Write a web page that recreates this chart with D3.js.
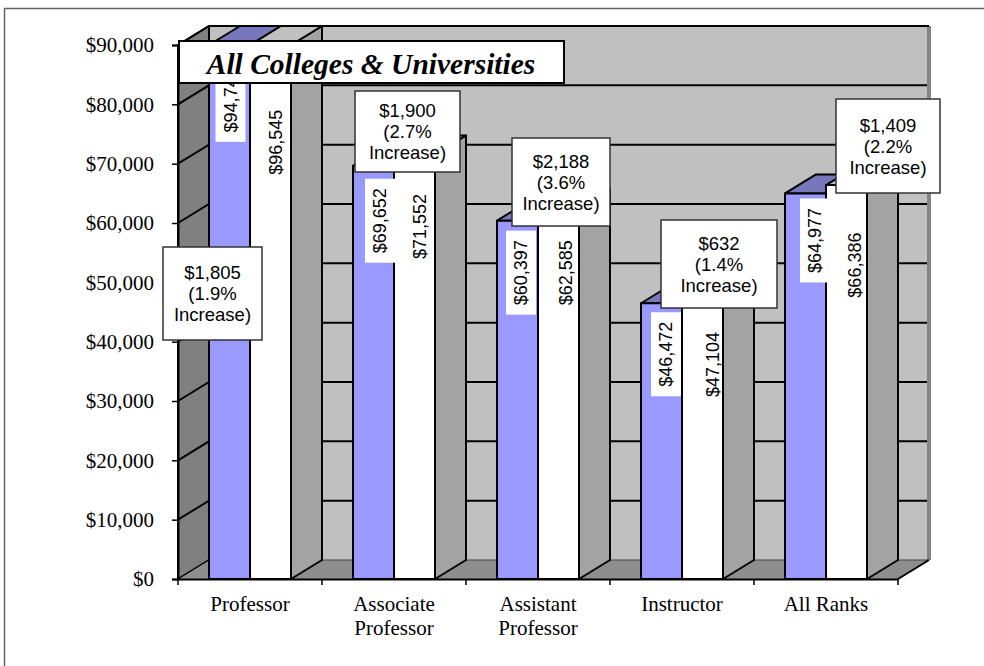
<!DOCTYPE html>
<html>
<head>
<meta charset="utf-8">
<script src="https://cdn.jsdelivr.net/npm/d3@7"></script>
<style>
  html, body { margin: 0; padding: 0; background: #fff; }
  svg { display: block; }
</style>
</head>
<body>
<div id="container"></div>
<script>
// Chart values.
const categories = ["Professor", "Associate Professor", "Assistant Professor", "Instructor", "All Ranks"];
const categoryLines = [["Professor"], ["Associate", "Professor"], ["Assistant", "Professor"], ["Instructor"], ["All Ranks"]];
const series = ["before", "after"];
const salaryBefore = [94740, 69652, 60397, 46472, 64977];
const salaryAfter = [96545, 71552, 62585, 47104, 66386];
const noteAmounts = ["$1,805", "$1,900", "$2,188", "$632", "$1,409"];
const notePercents = ["(1.9%", "(2.7%", "(3.6%", "(1.4%", "(2.2%"];
const yTicks = [0, 10000, 20000, 30000, 40000, 50000, 60000, 70000, 80000, 90000];
const titleText = "All Colleges & Universities";

// Hand placed label offsets, these were dragged around in the original chart.
const beforeLabelDx = [1, 6.5, 3.5, 4.5, 9.5];
const beforeLabelDy = [83, 55, 52, 51, 47];
const afterLabelDx = [5, 5.5, 7.5, 10.5, 8.5];
const afterLabelDy = [136, 72, 65, 65, 80];
const noteDx = [-37.5, 13.5, 23, 37, 62];
const noteTop = [247, 91, 138, 220, 99];
const noteWidth = [99, 105, 98, 116, 104];
const noteHeight = [93, 81, 88, 88, 94];

const width = 984;
const height = 666;
const marginTop = 45;
const marginLeft = 178;
const marginRight = 86;
const marginBottom = 87;
const depthX = 31;
const depthY = -19;

const serif = "'Liberation Serif', 'Times New Roman', serif";
const sans = "'Liberation Sans', Arial, sans-serif";

const x = d3.scaleBand().domain(categories).range([marginLeft, width - marginRight]);
const inner = d3.scaleBand().domain(series).range([0, x.bandwidth()]).paddingOuter(0.756);
const y = d3.scaleLinear().domain([0, 90000]).range([height - marginBottom, marginTop]).clamp(true);

const svg = d3.create("svg").attr("width", width).attr("height", height);
const floorY = y(0);
const left = x.range()[0];
const right = x.range()[1];

function poly(g, points, fill) {
  return g.append("polygon")
    .attr("points", points.map((d) => d.join(",")).join(" "))
    .attr("fill", fill)
    .attr("stroke", "#000")
    .attr("stroke-width", 2)
    .attr("stroke-linejoin", "round");
}

// Outer frame, only top and left are in the picture.
svg.append("path")
  .attr("d", `M4.5,${height}V8.5H${width}`)
  .attr("fill", "none")
  .attr("stroke", "#666")
  .attr("stroke-width", 1.5);

// Back wall, left wall, floor.
const walls = svg.append("g");
walls.append("rect")
  .attr("x", left + depthX)
  .attr("y", y(90000) + depthY)
  .attr("width", right - left + 2)
  .attr("height", floorY - y(90000))
  .attr("fill", "#c0c0c0");
walls.append("rect")
  .attr("x", right + depthX - 2)
  .attr("y", y(90000) + depthY)
  .attr("width", 4)
  .attr("height", floorY - y(90000))
  .attr("fill", "#848484");
poly(walls, [[left, floorY], [left, y(90000)], [left + depthX, y(90000) + depthY], [left + depthX, floorY + depthY]], "#808080");
walls.append("path")
  .attr("d", `M${left},${floorY}L${right},${floorY}L${right + depthX},${floorY + depthY}H${left + depthX}Z`)
  .attr("fill", "#8e8e8e");
walls.append("path")
  .attr("d", `M${left + depthX},${floorY + depthY}H${right + depthX}`)
  .attr("stroke", "#444")
  .attr("stroke-width", 1);
walls.append("path")
  .attr("d", `M${right},${floorY}L${right + depthX},${floorY + depthY}`)
  .attr("stroke", "#000")
  .attr("stroke-width", 2);

// Grid lines run along the left wall and then the back wall.
walls.selectAll(".grid")
  .data(yTicks.slice(1))
  .join("path")
  .attr("class", "grid")
  .attr("d", (d) => `M${left},${y(d)}l${depthX},${depthY}H${right + depthX - (d === 90000 ? 0 : 2)}`)
  .attr("fill", "none")
  .attr("stroke", "#000")
  .attr("stroke-width", 2);
walls.append("path")
  .attr("d", `M${left},${floorY}l${depthX},${depthY}`)
  .attr("stroke", "#000")
  .attr("stroke-width", 1);

// Bars: front, top and right side of each box.
function drawBar(i, key, value, fill, topFill) {
  const g = svg.append("g");
  const x0 = x(categories[i]) + inner(key);
  const x1 = x0 + inner.bandwidth();
  const yTop = y(value);
  poly(g, [[x1, floorY], [x1, yTop], [x1 + depthX, yTop + depthY], [x1 + depthX, floorY + depthY]], "#a3a3a3");
  poly(g, [[x0, yTop], [x0 + depthX, yTop + depthY], [x1 + depthX, yTop + depthY], [x1, yTop]], topFill);
  poly(g, [[x0, floorY], [x0, yTop], [x1, yTop], [x1, floorY]], fill);
}

categories.forEach((c, i) => {
  drawBar(i, "before", salaryBefore[i], "#9999ff", "#7777bb");
  drawBar(i, "after", salaryAfter[i], "#fff", "#c0c0c0");
});

// Rotated value labels. Positions use the true value, not the clamped one.
const rawY = y.copy().clamp(false);
function valueLabel(i, key, value, dx, dy, box) {
  const cx = x(categories[i]) + inner(key) + inner.bandwidth() / 2 + dx;
  const cy = rawY(value) + dy;
  if (box) {
    svg.append("rect")
      .attr("x", cx - 15)
      .attr("y", cy - 42)
      .attr("width", 30)
      .attr("height", 84)
      .attr("fill", "#fff");
  }
  svg.append("text")
    .attr("transform", `translate(${cx},${cy}) rotate(-90)`)
    .attr("text-anchor", "middle")
    .attr("dy", "0.36em")
    .attr("font-family", sans)
    .attr("font-size", 18)
    .attr("fill", "#000")
    .text(d3.format("$,")(value));
}
categories.forEach((c, i) => {
  valueLabel(i, "before", salaryBefore[i], beforeLabelDx[i], beforeLabelDy[i], true);
  valueLabel(i, "after", salaryAfter[i], afterLabelDx[i], afterLabelDy[i], false);
});

// Axes.
const yAxis = svg.append("g")
  .attr("transform", `translate(${left},0)`)
  .call(d3.axisLeft(y).tickValues(yTicks).tickFormat(d3.format("$,")).tickSize(6).tickPadding(18));
yAxis.selectAll("text").attr("font-family", serif).attr("font-size", 21).attr("fill", "#000");
yAxis.selectAll("line").attr("stroke", "#000").attr("stroke-width", 1.5);
yAxis.select(".domain").attr("stroke", "#000").attr("stroke-width", 2);

const xAxis = svg.append("g")
  .attr("transform", `translate(0,${floorY})`)
  .call(d3.axisBottom(x).tickSize(0).tickFormat(""));
xAxis.select(".domain").attr("stroke", "#000").attr("stroke-width", 2);

svg.append("g").selectAll("line")
  .data(x.domain().map((c) => x(c)).concat(right))
  .join("line")
  .attr("x1", (d) => d)
  .attr("x2", (d) => d)
  .attr("y1", floorY)
  .attr("y2", floorY + 6)
  .attr("stroke", "#000")
  .attr("stroke-width", 1.5);

const catLabels = svg.append("g").selectAll("text")
  .data(categories)
  .join("text")
  .attr("text-anchor", "middle")
  .attr("font-family", serif)
  .attr("font-size", 21)
  .attr("fill", "#000");
catLabels.each(function (d, i) {
  d3.select(this).selectAll("tspan")
    .data(categoryLines[i])
    .join("tspan")
    .attr("x", x(d) + x.bandwidth() / 2)
    .attr("y", (w, j) => floorY + 32 + j * 24)
    .text((w) => w);
});

// Increase notes on top of everything.
categories.forEach((c, i) => {
  const cx = x(c) + x.bandwidth() / 2 + noteDx[i];
  const g = svg.append("g");
  g.append("rect")
    .attr("x", cx - noteWidth[i] / 2)
    .attr("y", noteTop[i])
    .attr("width", noteWidth[i])
    .attr("height", noteHeight[i])
    .attr("fill", "#fff")
    .attr("stroke", "#333")
    .attr("stroke-width", 1.5);
  const cy = noteTop[i] + noteHeight[i] / 2;
  g.selectAll("text")
    .data([noteAmounts[i], notePercents[i], "Increase)"])
    .join("text")
    .attr("x", cx)
    .attr("y", (d, j) => cy + (j - 1) * 21)
    .attr("dy", "0.36em")
    .attr("text-anchor", "middle")
    .attr("font-family", sans)
    .attr("font-size", 18.5)
    .attr("fill", "#000")
    .text((d) => d);
});

// Title box.
svg.append("rect")
  .attr("x", 179)
  .attr("y", 41)
  .attr("width", 385)
  .attr("height", 42)
  .attr("fill", "#fff")
  .attr("stroke", "#000")
  .attr("stroke-width", 2);
svg.append("text")
  .attr("x", 371)
  .attr("y", 74)
  .attr("text-anchor", "middle")
  .attr("font-family", serif)
  .attr("font-size", 29.5)
  .attr("font-weight", "bold")
  .attr("font-style", "italic")
  .attr("fill", "#000")
  .text(titleText);

document.getElementById("container").append(svg.node());
</script>
</body>
</html>
